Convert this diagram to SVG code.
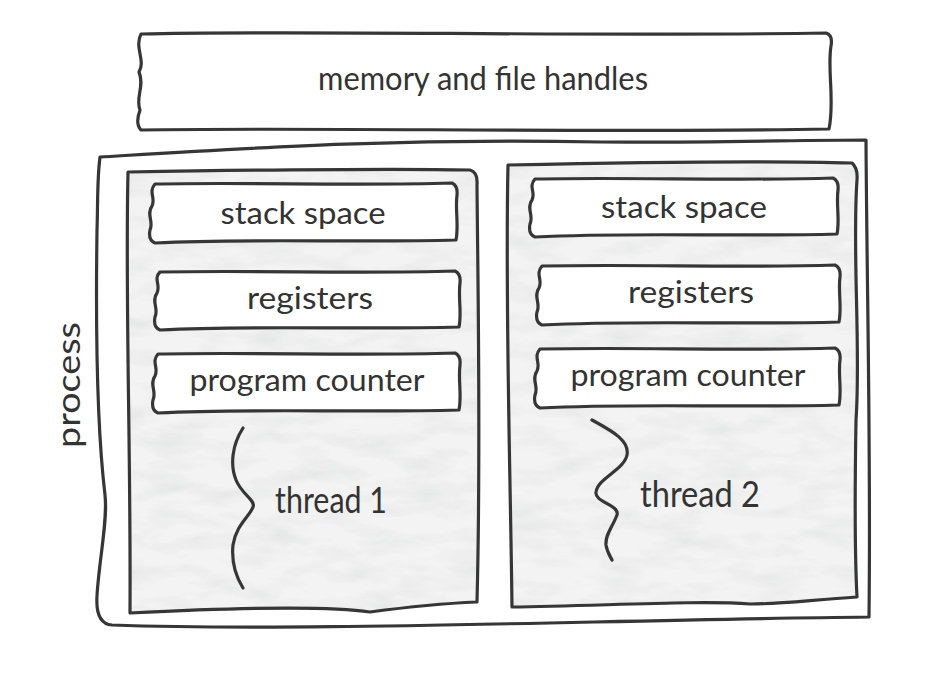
<svg xmlns="http://www.w3.org/2000/svg" width="940" height="678" viewBox="0 0 940 678">
<defs>
<style>
.ln{fill:none;stroke:#363636;stroke-width:3.2;stroke-linejoin:round;stroke-linecap:round}
.bx{fill:#fff;stroke:#363636;stroke-width:3.2;stroke-linejoin:round}
.th{fill:#f3f3f3;stroke:none}
.t{font-family:Lato,"Noto Sans",sans-serif;fill:#333;text-anchor:middle}
</style>
<filter id="paper" x="0" y="0" width="100%" height="100%">
<feTurbulence type="fractalNoise" baseFrequency="0.02 0.06" numOctaves="4" seed="7" result="n"/>
<feColorMatrix in="n" type="matrix" values="0 0 0 0 0.65 0 0 0 0 0.66 0 0 0 0 0.68 0.9 0 0 0 -0.38" result="g"/>
<feComposite in="g" in2="SourceGraphic" operator="in" result="tx"/>
<feMerge><feMergeNode in="SourceGraphic"/><feMergeNode in="tx"/></feMerge>
</filter>
<path id="t1shape" d="M128,172 C250,170 380,168 470,170 Q478,172 477,185 C478,300 481,450 477,602 C430,604 400,608 370,612 C330,606 250,607 130,613 C131,450 125,300 128,172 Z"/>
<path id="t2shape" d="M508,165 C600,163 750,160 852,163 Q858,168 857,180 C852,250 861,350 856,420 C855,480 854,540 857,597 C810,600 780,604 750,604 C700,600 600,606 512,607 C510,450 505,300 508,165 Z"/>
</defs>
<rect width="940" height="678" fill="#fff"/>

<g id="memory">
<path class="bx" d="M141,34 C300,30 600,37 826,33 Q833,35 831,46 C827,70 835,100 829,129 C600,133 300,127 141,130 Q135,124 140,110 C135,98 145,86 139,72 C146,60 134,48 141,34 Z"/>
<text class="t" x="483" y="90" font-size="32" textLength="330" lengthAdjust="spacingAndGlyphs">memory and file handles</text>
</g>

<g id="process">
<path class="bx" d="M100,157 C250,148 400,138 600,142 C700,143 800,140 866,140 C867,300 871,450 869,617 C600,620 300,632 112,625 C99,624 96,612 97,596 C99,560 108,520 105,495 C96,420 96,300 97,230 C98,200 97,180 100,157 Z"/>
<text class="t" transform="translate(80,385) rotate(-90)" font-size="32" textLength="126" lengthAdjust="spacingAndGlyphs">process</text>
</g>

<g id="thread1">
<use href="#t1shape" class="th" filter="url(#paper)"/>
<use href="#t1shape" class="ln"/>
<path class="ln" d="M243,428 C232,445 230,465 236,480 C242,495 256,500 253,507 C250,516 236,525 233,545 C231,565 238,580 243,588"/>
<text class="t" x="331" y="513" font-size="36" textLength="112" lengthAdjust="spacingAndGlyphs">thread 1</text>
</g>

<g id="thread2">
<use href="#t2shape" class="th" filter="url(#paper)"/>
<use href="#t2shape" class="ln"/>
<path class="ln" d="M592,420 C610,430 630,440 627,455 C624,470 598,478 596,492 C594,502 620,505 617,515 C612,528 605,535 606,545 C607,552 610,556 612,560"/>
<text class="t" x="700" y="507" font-size="36" textLength="120" lengthAdjust="spacingAndGlyphs">thread 2</text>
</g>

<g id="t1-stack">
<path class="bx" d="M155,184 C250,182 357,186 452,183 Q458,186 457,195 C455,210 459,225 456,240 C357,243 250,238 155,243 Q148,240 150,230 C154,222 146,214 152,206 C156,198 148,192 155,184 Z"/>
<text class="t" x="303" y="224" font-size="30" textLength="165" lengthAdjust="spacingAndGlyphs">stack space</text>
</g>
<g id="t1-registers">
<path class="bx" d="M160,272 C255,270 360,274 455,271 Q461,274 460,283 C458,298 462,313 459,327 C360,330 255,325 160,330 Q153,327 155,317 C159,309 151,301 157,293 C161,285 153,279 160,272 Z"/>
<text class="t" x="310" y="309" font-size="30" textLength="126" lengthAdjust="spacingAndGlyphs">registers</text>
</g>
<g id="t1-pc">
<path class="bx" d="M158,354 C253,352 360,356 455,353 Q461,356 460,365 C458,380 462,395 459,410 C360,413 253,408 158,413 Q151,410 153,400 C157,392 149,384 155,376 C159,368 151,362 158,354 Z"/>
<text class="t" x="307" y="391" font-size="30" textLength="235" lengthAdjust="spacingAndGlyphs">program counter</text>
</g>

<g id="t2-stack">
<path class="bx" d="M535,179 C630,177 738,181 833,178 Q839,181 838,190 C836,205 840,220 837,234 C738,237 630,232 535,237 Q528,234 530,224 C534,216 526,208 532,200 C536,192 528,187 535,179 Z"/>
<text class="t" x="684" y="218" font-size="30" textLength="166" lengthAdjust="spacingAndGlyphs">stack space</text>
</g>
<g id="t2-registers">
<path class="bx" d="M542,266 C637,264 740,268 835,265 Q841,268 840,277 C838,292 842,307 839,322 C740,325 637,320 542,325 Q535,322 537,312 C541,304 533,296 539,288 C543,280 535,274 542,266 Z"/>
<text class="t" x="691" y="303" font-size="30" textLength="126" lengthAdjust="spacingAndGlyphs">registers</text>
</g>
<g id="t2-pc">
<path class="bx" d="M540,349 C635,347 740,351 835,348 Q841,351 840,360 C838,375 842,390 839,405 C740,408 635,403 540,408 Q533,405 535,395 C539,387 531,379 537,371 C541,363 533,357 540,349 Z"/>
<text class="t" x="688" y="386" font-size="30" textLength="235" lengthAdjust="spacingAndGlyphs">program counter</text>
</g>

<g id="connectors"></g>
</svg>
